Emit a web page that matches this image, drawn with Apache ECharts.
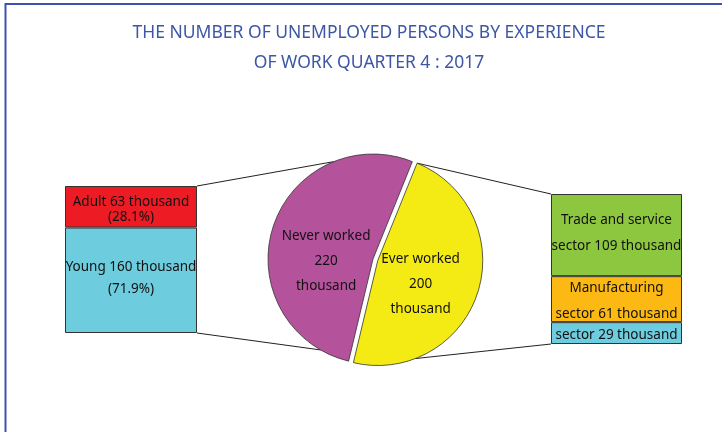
<!DOCTYPE html>
<html>
<head>
<meta charset="utf-8">
<script src="https://cdn.jsdelivr.net/npm/echarts@6/dist/echarts.min.js"></script>
<style>html,body{margin:0;padding:0;background:#fff}#c{width:722px;height:432px}</style>
</head>
<body>
<div id="c"></div>
<script>
// ---- data ----
const titleLines = ['THE NUMBER OF UNEMPLOYED PERSONS BY EXPERIENCE', 'OF WORK QUARTER 4 : 2017'];
const pieNames = ['Ever worked', 'Never worked'];
const pieValues = [200, 220];
const leftNames = ['Young', 'Adult'];
const leftValues = [160, 63];
const leftPercents = ['71.9%', '28.1%'];
const rightHeads = ['', 'Manufacturing', 'Trade and service'];
const rightValues = [29, 61, 109];

// ---- style / layout ----
const FONT = 'Noto Sans';
const FS = 13.5;
const pieColors = ['#F5EB14', '#B5529C'];
const leftColors = ['#6DCCDD', '#ED1C24'];
const rightColors = ['#6DCCDD', '#FDB913', '#8DC63F'];
const pieCenter = [373, 259], pieR = 105, pieStart = 68, pieOffset = 5;
const leftGrid = {left: 65, top: 186, width: 132, height: 147};
const rightGrid = {left: 551, top: 194, width: 131, height: 150};
const pieLabelOffsets = [[-10, 7], [6, 19]];

const chart = echarts.init(document.getElementById('c'));
const sum = a => a.reduce((s, v) => s + v, 0);

const series = [];
leftValues.forEach((v, i) => {
  series.push({
    type: 'bar', xAxisIndex: 0, yAxisIndex: 0, stack: 'L', barWidth: '100%',
    data: [v], name: leftNames[i],
    itemStyle: {color: leftColors[i], borderColor: '#333', borderWidth: 1},
    label: {show: true, position: 'inside', fontFamily: FONT, fontSize: FS, color: '#111',
      lineHeight: i === 1 ? 15 : 22,
      offset: i === 1 ? [0, 3] : [0, -2],
      formatter: () => leftNames[i] + ' ' + v + ' thousand\n(' + leftPercents[i] + ')'}
  });
});
rightValues.forEach((v, i) => {
  series.push({
    type: 'bar', xAxisIndex: 1, yAxisIndex: 1, stack: 'R', barWidth: '100%',
    data: [v],
    itemStyle: {color: rightColors[i], borderColor: '#333', borderWidth: 1},
    label: {show: true, position: 'inside', fontFamily: FONT, fontSize: FS, color: '#111',
      lineHeight: 26, offset: i === 2 ? [0, -2] : [0, 2],
      formatter: () => (rightHeads[i] ? rightHeads[i] + '\n' : '') + 'sector ' + v + ' thousand'}
  });
});
series.push({
  type: 'pie', center: pieCenter, radius: [0, pieR], startAngle: pieStart,
  selectedMode: 'single', selectedOffset: pieOffset, animation: false,
  itemStyle: {borderColor: '#333', borderWidth: 0.8},
  label: {show: true, position: 'inside', fontFamily: FONT, fontSize: FS, color: '#111', lineHeight: 25,
    formatter: p => p.name + '\n' + p.value + '\nthousand'},
  labelLine: {show: false},
  emphasis: {disabled: true},
  data: pieNames.map((n, i) => ({
    name: n, value: pieValues[i], selected: i === 0,
    itemStyle: {color: pieColors[i]},
    label: {offset: pieLabelOffsets[i]},
    select: {label: {offset: pieLabelOffsets[i]}}
  }))
});

// connector lines from bar corners to pie edge
function circlePt(angCW, off) {
  const a = angCW * Math.PI / 180;
  return [pieCenter[0] + pieR * Math.sin(a) + off[0], pieCenter[1] - pieR * Math.cos(a) + off[1]];
}
const yellowStartCW = 90 - pieStart;
const yellowSpan = 360 * pieValues[0] / sum(pieValues);
const bis = (yellowStartCW + yellowSpan / 2) * Math.PI / 180;
const yOff = [pieOffset * Math.sin(bis), -pieOffset * Math.cos(bis)];
const lx = leftGrid.left + leftGrid.width, rx = rightGrid.left;
const segs = [
  [[lx, leftGrid.top], circlePt(-22, [0, 0])],
  [[lx, leftGrid.top + leftGrid.height], circlePt(210, [0, 0])],
  [circlePt(yellowStartCW, yOff), [rx, rightGrid.top]],
  [circlePt(159, yOff), [rx, rightGrid.top + rightGrid.height]]
];
const graphic = segs.map(s => ({
  type: 'line', z: 1, silent: true,
  shape: {x1: s[0][0], y1: s[0][1], x2: s[1][0], y2: s[1][1]},
  style: {stroke: '#222', lineWidth: 1}
}));
graphic.push({type: 'rect', silent: true, shape: {x: 5.5, y: 4, width: 900, height: 600},
  style: {fill: 'none', stroke: '#4050B0', lineWidth: 2}});

chart.setOption({
  animation: false,
  backgroundColor: '#fff',
  title: {text: titleLines.join('\n'), left: 364, top: 13, textAlign: 'center',
    textStyle: {fontFamily: FONT, fontSize: 17.5, fontWeight: 'normal', color: '#3D56A6', lineHeight: 30}},
  grid: [leftGrid, rightGrid],
  xAxis: [
    {type: 'category', gridIndex: 0, data: ['L'], show: false},
    {type: 'category', gridIndex: 1, data: ['R'], show: false}
  ],
  yAxis: [
    {type: 'value', gridIndex: 0, min: 0, max: sum(leftValues), show: false},
    {type: 'value', gridIndex: 1, min: 0, max: sum(rightValues), show: false}
  ],
  graphic: graphic,
  series: series
});
</script>
</body>
</html>
